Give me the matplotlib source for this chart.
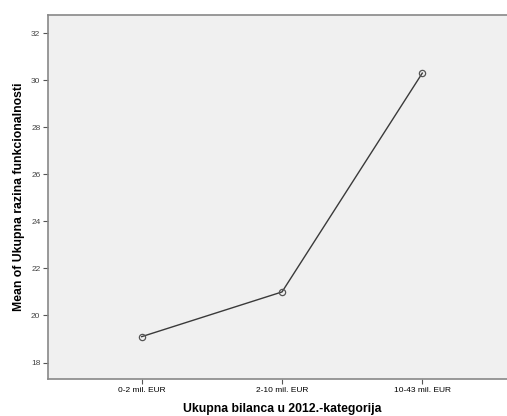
import matplotlib.pyplot as plt
import numpy as np

categories = ['0-2 mil. EUR', '2-10 mil. EUR', '10-43 mil. EUR']
means = [19.1, 21.0, 30.3]
y_ticks = [18, 20, 22, 24, 26, 28, 30, 32]

plt.rcParams['font.family'] = ['Liberation Sans', 'DejaVu Sans']

fig = plt.figure(figsize=(5.07, 4.16), dpi=100)
ax = fig.add_axes([48 / 507, 1 - 379 / 416, (516 - 48) / 507, (379 - 15) / 416])
ax.set_facecolor('#f0f0f0')

x = np.arange(len(categories))
ax.plot(x, means, color='#3a3a3a', linewidth=1.0, marker='o', markersize=4.5,
        markerfacecolor='none', markeredgecolor='#555555', markeredgewidth=0.9)

ax.set_xlim(-0.668, 2.668)
ax.set_ylim(17.3, 32.77)
ax.set_xticks(x)
ax.set_xticklabels(categories, fontsize=6)
ax.set_yticks(y_ticks)
ax.set_yticklabels([str(v) for v in y_ticks], fontsize=6, color='#444444')
ax.tick_params(axis='both', direction='out', length=3.5, width=0.8, color='#555555', pad=2)

for s in ax.spines.values():
    s.set_color('#888888')
    s.set_linewidth(1.2)

ax.set_xlabel('Ukupna bilanca u 2012.-kategorija', fontsize=8.8, fontweight='bold', labelpad=7)
ax.set_ylabel('Mean of Ukupna razina funkcionalnosti', fontsize=8.8, fontweight='bold', labelpad=4)

fig.savefig('out.png', dpi=100)
